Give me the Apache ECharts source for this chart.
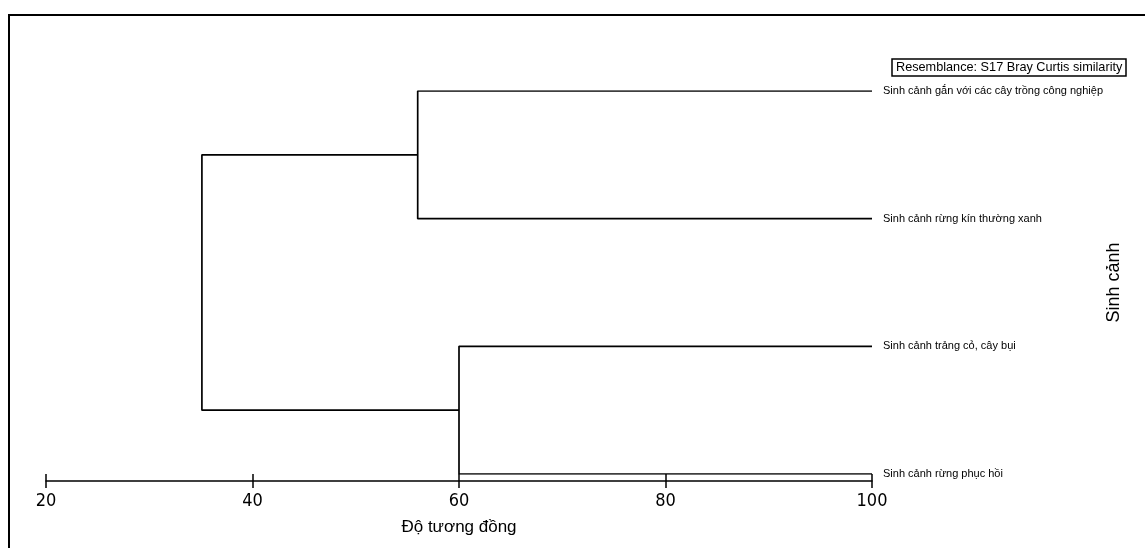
<!DOCTYPE html>
<html>
<head>
<meta charset="utf-8">
<script src="https://cdn.jsdelivr.net/npm/echarts@6/dist/echarts.min.js"></script>
<style>
  html, body { margin: 0; padding: 0; background: #fff; }
  #chart { width: 1145px; height: 548px; }
</style>
</head>
<body>
<div id="chart"></div>
<script>
// Leaves, top to bottom
const leafNames = [
  'Sinh cảnh gắn với các cây trồng công nghiệp',
  'Sinh cảnh rừng kín thường xanh',
  'Sinh cảnh trảng cỏ, cây bụi',
  'Sinh cảnh rừng phục hồi'
]
const leafSimilarity = 100
// Merges: node ids 0-3 are leaves, 4.. are clusters in order
const mergePairs = [[0, 1], [2, 3], [4, 5]]
const mergeSimilarity = [56, 60, 35.1]
const xTicks = [20, 40, 60, 80, 100]

const condensed = '"DejaVu Sans Condensed", "Liberation Sans", sans-serif'
const regular = '"Liberation Sans", Arial, sans-serif'

// node positions: x = similarity, y = leaf index (or mean of children)
const nodeX = leafNames.map(() => leafSimilarity)
const nodeY = leafNames.map((_, i) => i)
const series = mergePairs.map(([a, b], k) => {
  const x = mergeSimilarity[k]
  nodeX.push(x)
  nodeY.push((nodeY[a] + nodeY[b]) / 2)
  return {
    type: 'line',
    symbol: 'none',
    animation: false,
    lineStyle: { color: '#000', width: 1.7 },
    data: [[nodeX[a], nodeY[a]], [x, nodeY[a]], [x, nodeY[b]], [nodeX[b], nodeY[b]]]
  }
})

const xBase = {
  type: 'value',
  min: xTicks[0],
  max: xTicks[xTicks.length - 1],
  interval: 20,
  position: 'bottom',
  splitLine: { show: false }
}

const chart = echarts.init(document.getElementById('chart'))
chart.setOption({
  animation: false,
  backgroundColor: '#fff',
  title: {
    text: 'Resemblance: S17 Bray Curtis similarity',
    left: 892,
    top: 59,
    padding: [2, 4, 2, 4],
    borderColor: '#000',
    borderWidth: 1.5,
    textStyle: { fontSize: 12.7, fontWeight: 'normal', fontFamily: regular, color: '#000' }
  },
  grid: [
    // dendrogram area
    { left: 46, right: 273, top: 91, bottom: 74, containLabel: false, outerBoundsMode: 'none' },
    // same width, used for the upward tick marks on the axis
    { left: 46, right: 273, top: 91, bottom: 67, containLabel: false, outerBoundsMode: 'none' }
  ],
  xAxis: [
    Object.assign({}, xBase, {
      gridIndex: 0,
      offset: 7,
      axisLine: { onZero: false, lineStyle: { color: '#000', width: 1.5 } },
      axisTick: { length: 7, lineStyle: { color: '#000', width: 1.5 } },
      axisLabel: { color: '#000', fontSize: 18, fontFamily: condensed, margin: 11 },
      name: 'Độ tương đồng',
      nameLocation: 'middle',
      nameGap: 38,
      nameMoveOverlap: false,
      nameTextStyle: { fontSize: 17, fontFamily: regular, color: '#000' }
    }),
    Object.assign({}, xBase, {
      gridIndex: 1,
      axisLine: { show: false },
      axisTick: { inside: true, length: 7, lineStyle: { color: '#000', width: 1.5 } },
      axisLabel: { show: false }
    })
  ],
  yAxis: [
    {
      gridIndex: 0,
      type: 'value',
      min: 0,
      max: leafNames.length - 1,
      interval: 1,
      inverse: true,
      position: 'right',
      axisLine: { show: false },
      axisTick: { show: false },
      splitLine: { show: false },
      axisLabel: {
        formatter: (v) => leafNames[v] || '',
        margin: 11,
        fontSize: 11,
        fontFamily: regular,
        color: '#000'
      },
      name: 'Sinh cảnh',
      nameLocation: 'middle',
      nameRotate: 90,
      nameGap: 233,
      nameMoveOverlap: false,
      nameTextStyle: { fontSize: 18, fontFamily: regular, color: '#000' }
    },
    { gridIndex: 1, type: 'value', show: false }
  ],
  graphic: [
    {
      type: 'polyline',
      shape: { points: [[9, 548], [9, 15], [1145, 15]] },
      style: { stroke: '#000', lineWidth: 2, fill: null }
    }
  ],
  series: series
})
</script>
</body>
</html>
